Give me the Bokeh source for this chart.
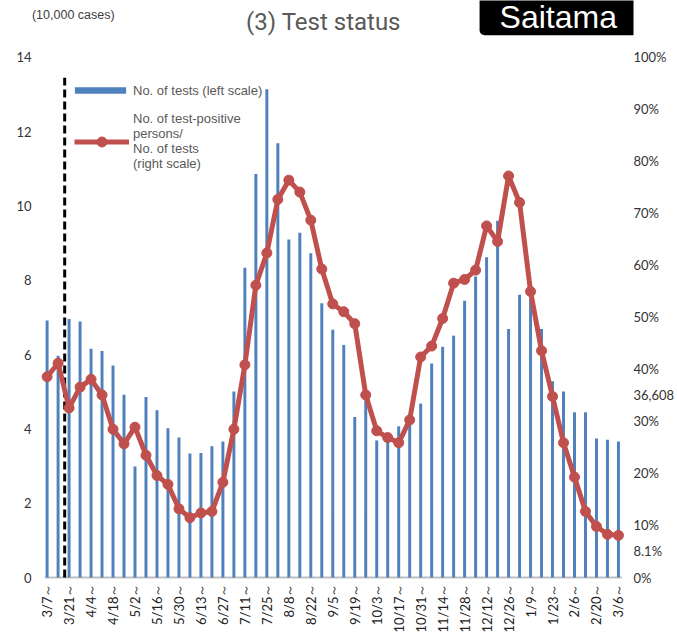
import math
from bokeh.plotting import figure
from bokeh.models import (Range1d, LinearAxis, FixedTicker, Label, Legend, LegendItem,
                          ColumnDataSource, PrintfTickFormatter)
from bokeh.embed import file_html
from bokeh.resources import INLINE

# ---------------- data ----------------
weeks = ["3/7", "3/14", "3/21", "3/28", "4/4", "4/11", "4/18", "4/25", "5/2", "5/9",
         "5/16", "5/23", "5/30", "6/6", "6/13", "6/20", "6/27", "7/4", "7/11", "7/18",
         "7/25", "8/1", "8/8", "8/15", "8/22", "8/29", "9/5", "9/12", "9/19", "9/26",
         "10/3", "10/10", "10/17", "10/24", "10/31", "11/7", "11/14", "11/21", "11/28", "12/5",
         "12/12", "12/19", "12/26", "1/2", "1/9", "1/16", "1/23", "1/30", "2/6", "2/13",
         "2/20", "2/27", "3/6"]
# No. of tests (10,000 cases)
tests = [6.92, 5.97, 6.96, 6.89, 6.16, 6.10, 5.71, 4.92, 2.99, 4.86,
         4.50, 4.02, 3.77, 3.34, 3.35, 3.53, 3.66, 5.01, 8.34, 10.86,
         13.14, 11.69, 9.10, 9.28, 8.73, 7.38, 6.67, 6.26, 4.32, 4.80,
         3.69, 3.70, 4.07, 4.20, 4.68, 5.76, 6.21, 6.51, 7.45, 8.10,
         8.62, 9.60, 6.69, 7.61, 7.50, 6.69, 5.28, 5.01, 4.45, 4.45,
         3.74, 3.71, 3.6608]
# No. of test-positive persons / No. of tests (%)
positivity = [38.6, 41.2, 32.6, 36.6, 38.1, 35.1, 28.5, 25.7, 28.9, 23.5,
              19.6, 17.9, 13.2, 11.5, 12.4, 12.7, 18.3, 28.5, 40.9, 56.2,
              62.4, 72.7, 76.4, 74.1, 68.7, 59.3, 52.6, 51.1, 48.8, 35.1,
              28.2, 26.9, 25.9, 30.3, 42.4, 44.5, 49.8, 56.6, 57.3, 59.1,
              67.6, 64.6, 77.2, 72.1, 55.0, 43.6, 34.8, 25.9, 19.3, 12.7,
              9.8, 8.3, 8.1]
left_ticks = [0, 2, 4, 6, 8, 10, 12, 14]
right_ticks = [0, 10, 20, 30, 40, 50, 60, 70, 80, 90, 100]
x_tick_idx = list(range(0, len(weeks), 2))
x_tick_labels = [weeks[i] + "～" for i in x_tick_idx]
last_tests_label = f"{round(tests[-1] * 10000):,}"   # 36,608
last_rate_label = f"{positivity[-1]}%"                # 8.1%
# right-axis slots where the two latest-value notes sit
note_slots = {35.12: last_tests_label, 5.05: last_rate_label}
dashed_x = 1.6        # vertical dashed marker between 3/14 and 3/21
dashed_top = 13.45

x = list(range(len(weeks)))
src = ColumnDataSource(dict(x=x, tests=tests, pos=positivity))

BLUE = "#4F81BD"
RED = "#C0504D"
TICK_FONT = "Lato"

# frame: left 31px, right 637px, top 0px, bottom 580px (value 0 at 578px, 14 at 57px)
PX_L = 521 / 14.0     # px per 10,000 tests
PX_R = 521 / 100.0    # px per %
p = figure(width=677, height=635, output_backend="svg", toolbar_location=None,
           x_range=Range1d(-1.42, 53.37),
           y_range=Range1d(-2 / PX_L, 14 + 57 / PX_L),
           min_border_left=31, min_border_right=40, min_border_top=0, min_border_bottom=55,
           background_fill_color="white", border_fill_color="white")
p.outline_line_color = None
p.xgrid.visible = False
p.ygrid.visible = False
p.extra_y_ranges = {"pct": Range1d(-2 / PX_R, 100 + 57 / PX_R)}

# left axis
ya = p.yaxis[0]
ya.ticker = FixedTicker(ticks=left_ticks)
ya.axis_line_color = None
ya.major_tick_line_color = None
ya.minor_tick_line_color = None
ya.major_tick_out = 0
ya.major_tick_in = 0
ya.major_label_text_font = TICK_FONT
ya.major_label_text_font_size = "13px"
ya.major_label_text_color = "#333333"
ya.major_label_standoff = 0

# right axis
ra = LinearAxis(y_range_name="pct", ticker=FixedTicker(ticks=right_ticks + list(note_slots)),
                formatter=PrintfTickFormatter(format="%d%%"),
                major_label_overrides=note_slots)
ra.axis_line_color = None
ra.major_tick_line_color = None
ra.minor_tick_line_color = None
ra.major_tick_out = 0
ra.major_tick_in = 0
ra.major_label_text_font = TICK_FONT
ra.major_label_text_font_size = "13px"
ra.major_label_text_color = "#333333"
ra.major_label_standoff = 0
p.add_layout(ra, "right")

# bottom axis
xa = p.xaxis[0]
xa.ticker = FixedTicker(ticks=x_tick_idx)
xa.major_label_overrides = {i: lab for i, lab in zip(x_tick_idx, x_tick_labels)}
xa.major_label_orientation = math.pi / 2
xa.major_label_text_font = TICK_FONT
xa.major_label_text_font_size = "13px"
xa.major_label_text_color = "#222222"
xa.major_label_standoff = 4
xa.axis_line_color = None
xa.major_tick_line_color = None
xa.minor_tick_line_color = None
xa.major_tick_out = 0
xa.major_tick_in = 0

# glyphs
p.segment(x0=[-0.2], y0=[0], x1=[52.3], y1=[0], line_color="#BFBFBF", line_width=2)
bars = p.vbar(x="x", top="tests", width=0.27, source=src, fill_color=BLUE, line_color=None)
p.segment(x0=[dashed_x], y0=[0], x1=[dashed_x], y1=[dashed_top], line_color="black",
          line_width=3, line_dash="8 4")
ln = p.line(x="x", y="pos", source=src, y_range_name="pct", line_color=RED, line_width=5)
mk = p.scatter(x="x", y="pos", source=src, y_range_name="pct", size=10,
               fill_color=RED, line_color=RED)

# legends
common = dict(background_fill_alpha=0, border_line_color=None, padding=0, margin=0, spacing=0,
              label_text_font="Liberation Sans", label_text_font_size="13px",
              label_text_color="#595959", label_height=16, label_text_line_height=1.23)
leg1 = Legend(items=[LegendItem(label="No. of tests (left scale)", renderers=[bars])],
              location=(37, 481), glyph_width=64, glyph_height=8, label_standoff=1, **common)
leg2 = Legend(items=[LegendItem(label="No. of test-positive\npersons/\nNo. of tests\n(right scale)",
                                renderers=[ln, mk])],
              location=(43, 408), glyph_width=55, glyph_height=25, label_standoff=4, **common)
p.add_layout(leg1)
p.add_layout(leg2)

# header texts
p.add_layout(Label(x=25.16, y=14.94, text="(3) Test status", text_font="Roboto",
                   text_font_size="24px", text_color="#595959", text_baseline="alphabetic",
                   text_align="center"))
p.add_layout(Label(x=-1.38, y=15.13, text="(10,000 cases)", text_font="Liberation Sans",
                   text_font_size="12.5px", text_color="#404040", text_baseline="middle"))
p.add_layout(Label(x=39.36, y=15.24, text="Saitama", text_font="Liberation Sans",
                   text_font_size="32px", text_color="white", text_baseline="alphabetic",
                   background_fill_color="black",
                   padding=dict(left=20, right=20, top=12, bottom=0), border_radius=5))

open("out.html", "w").write(file_html(p, INLINE))
